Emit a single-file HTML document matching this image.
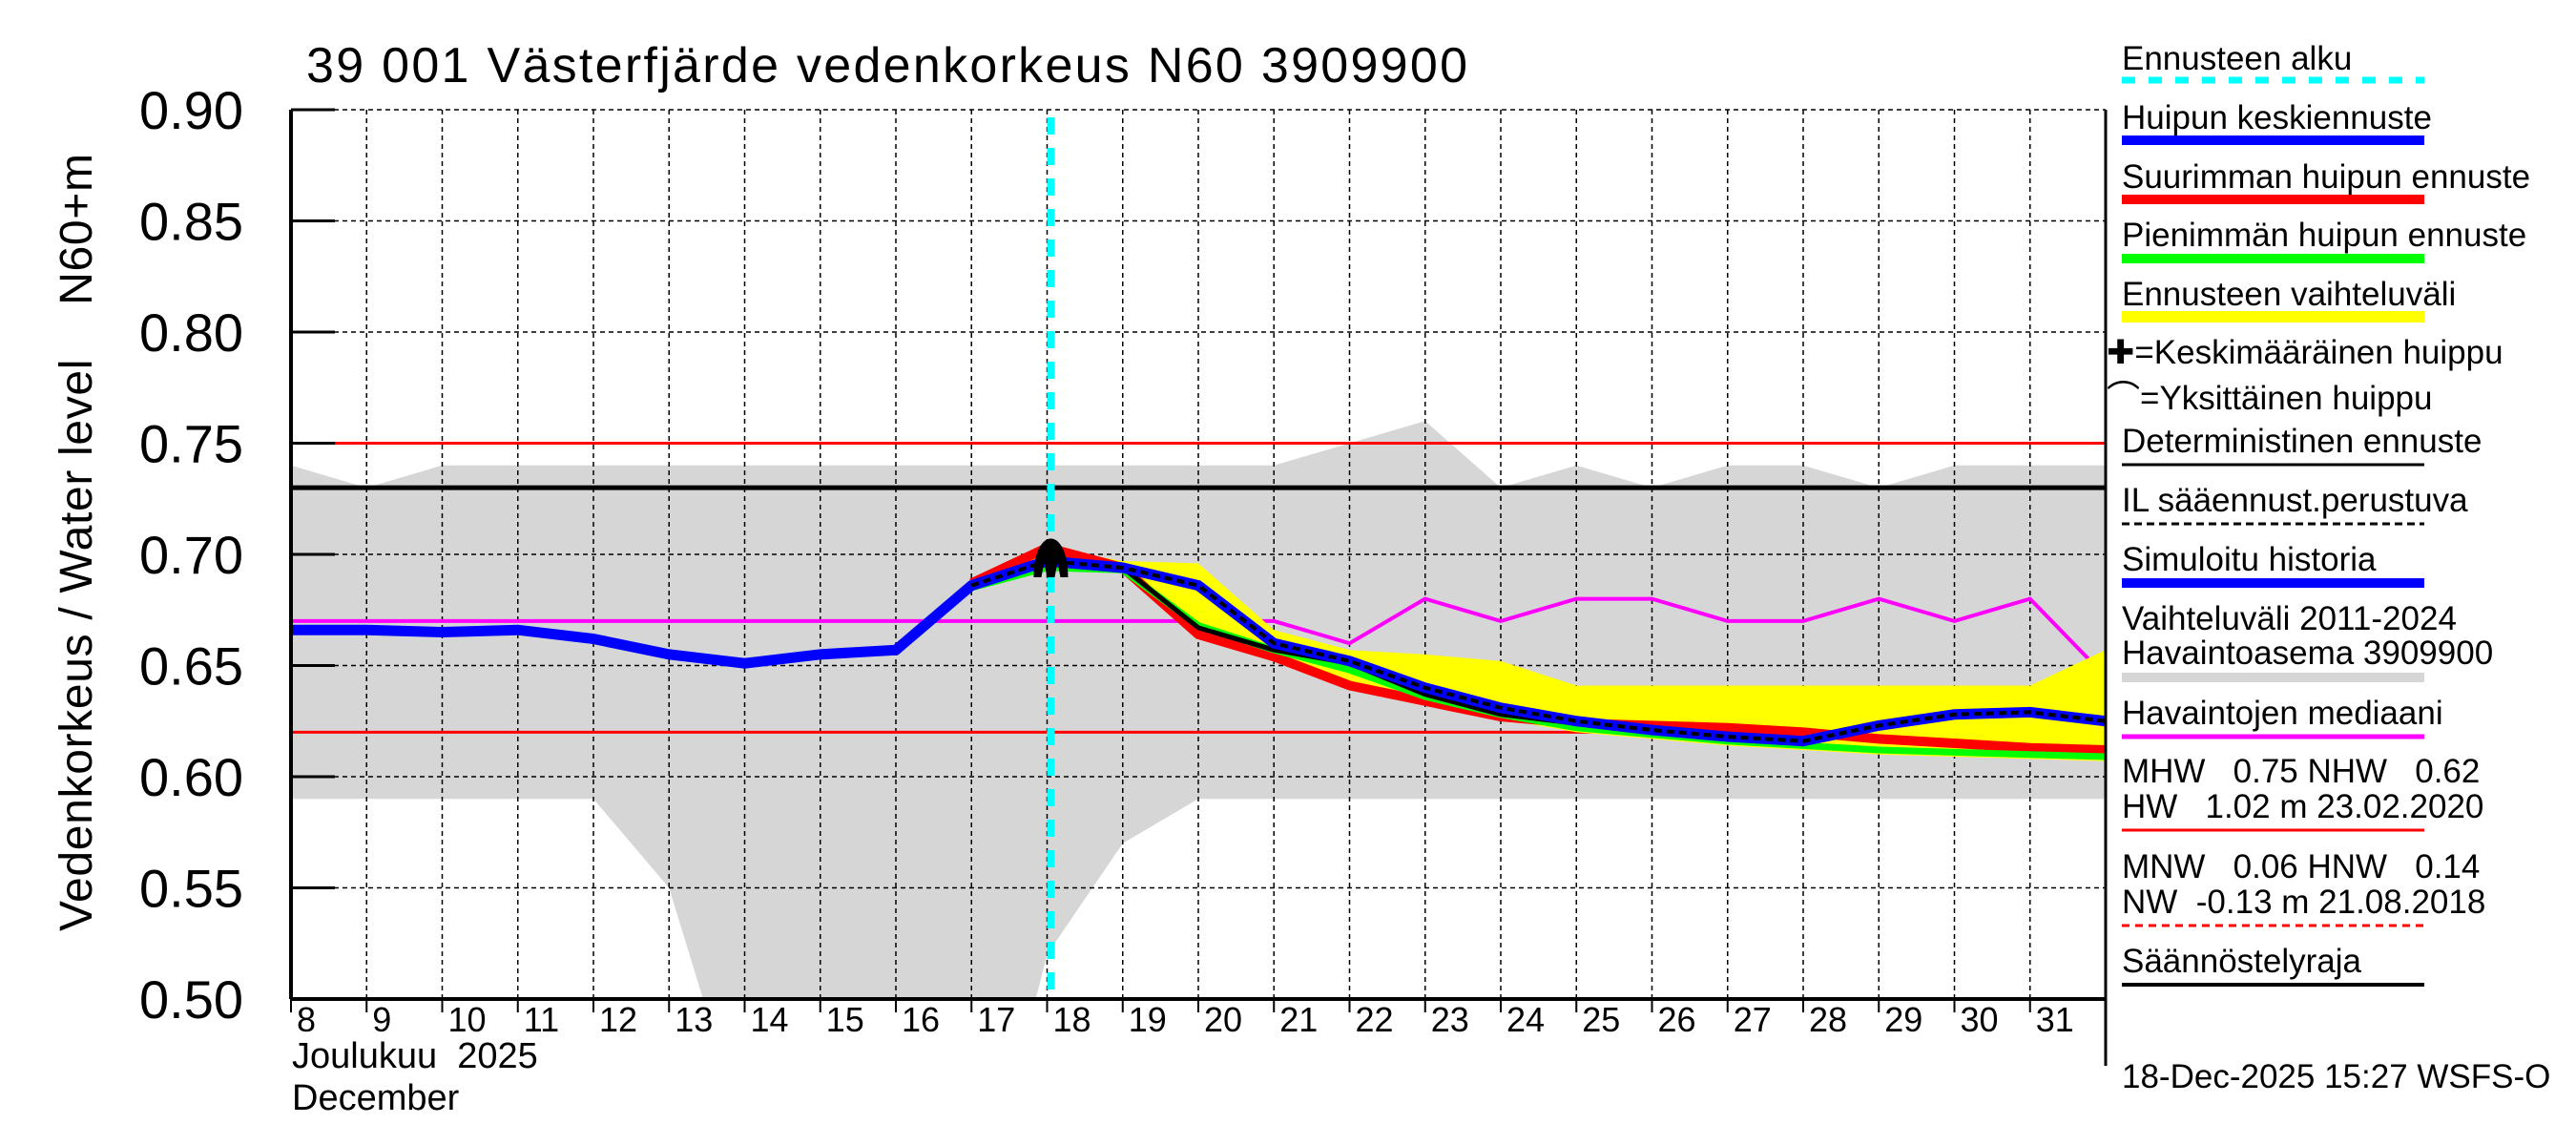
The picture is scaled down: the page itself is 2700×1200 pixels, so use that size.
<!DOCTYPE html>
<html><head><meta charset="utf-8"><style>
html,body{margin:0;padding:0;background:#fff;}
svg{display:block;font-family:"Liberation Sans",sans-serif;}
</style></head><body>
<svg id="chart" width="2700" height="1200" viewBox="0 0 2700 1200">
<g id="bg"></g><g id="grid"></g><g id="series"></g><g id="axes"></g><g id="legend"></g>
</svg>
<script>
const days=[8,9,10,11,12,13,14,15,16,17,18,19,20,21,22,23,24,25,26,27,28,29,30,31,32];
const yTicks=[0.50,0.55,0.60,0.65,0.70,0.75,0.80,0.85,0.90];
const xTickLabels=[8,9,10,11,12,13,14,15,16,17,18,19,20,21,22,23,24,25,26,27,28,29,30,31];
const rangeX=[8,9,10,11,12,13,13.45,17.85,18,19,20,21,22,23,24,25,26,27,28,29,30,31,32];
const rangeHi=[0.74,0.73,0.74,0.74,0.74,0.74,0.74,0.74,0.74,0.74,0.74,0.74,0.75,0.76,0.73,0.74,0.73,0.74,0.74,0.73,0.74,0.74,0.74];
const rangeLo=[0.59,0.59,0.59,0.59,0.59,0.55,0.50,0.50,0.52,0.57,0.59,0.59,0.59,0.59,0.59,0.59,0.59,0.59,0.59,0.59,0.59,0.59,0.59];
const medianVals=[0.67,0.67,0.67,0.67,0.67,0.67,0.67,0.67,0.67,0.67,0.67,0.67,0.67,0.67,0.66,0.68,0.67,0.68,0.68,0.67,0.67,0.68,0.67,0.68,0.645];
const histVals=[0.666,0.666,0.665,0.666,0.662,0.655,0.651,0.655,0.657,0.686,0.697,0.694];
const fcDays=[17,18,19,20,21,22,23,24,25,26,27,28,29,30,31,32];
const meanFc=[0.686,0.697,0.694,0.686,0.660,0.652,0.640,0.631,0.625,0.621,0.618,0.616,0.623,0.628,0.629,0.625];
const maxFc=[0.687,0.703,0.694,0.664,0.654,0.641,0.634,0.627,0.624,0.623,0.622,0.620,0.617,0.615,0.613,0.612];
const minFc=[0.685,0.694,0.693,0.668,0.657,0.648,0.636,0.628,0.622,0.619,0.616,0.614,0.612,0.611,0.610,0.609];
const detFc=[0.686,0.697,0.694,0.667,0.657,0.651,0.637,0.628,0.624,0.620,0.617,0.615,0.622,0.627,0.628,0.624];
const bandHi=[0.687,0.703,0.697,0.696,0.666,0.657,0.655,0.652,0.641,0.641,0.641,0.641,0.641,0.641,0.641,0.657];
const bandLo=[0.685,0.694,0.693,0.662,0.652,0.640,0.633,0.626,0.620,0.617,0.614,0.612,0.610,0.609,0.608,0.607];
const refLines=[0.75,0.73,0.62];
const fcStart=18.05;

const X0=305,X1=2207,Y0=115,Y1=1047;
const xs=d=>X0+(d-8)*(X1-X0)/24;
const ys=v=>Y0+(0.90-v)*(Y1-Y0)/0.40;
const NS='http://www.w3.org/2000/svg';
function mk(tag,attrs,parent,text){const e=document.createElementNS(NS,tag);for(const k in attrs)e.setAttribute(k,attrs[k]);if(text!==undefined)e.textContent=text;parent.appendChild(e);return e;}
const bg=document.getElementById('bg'),grid=document.getElementById('grid'),ser=document.getElementById('series'),ax=document.getElementById('axes'),lg=document.getElementById('legend');
const pts=(xa,va)=>xa.map((d,i)=>xs(d)+','+ys(va[i])).join(' ');

let p=mk('polygon',{points:pts(rangeX,rangeHi)+' '+pts(rangeX.slice().reverse(),rangeLo.slice().reverse()),fill:'#d6d6d6'},bg);



yTicks.forEach(v=>{const l=mk('line',{x1:X0,x2:X1,y1:ys(v),y2:ys(v),stroke:'#000','stroke-width':1.5,'stroke-dasharray':'5,4'},grid);

});
xTickLabels.forEach(d=>{const l=mk('line',{x1:xs(d),x2:xs(d),y1:Y0,y2:Y1,stroke:'#000','stroke-width':1.5,'stroke-dasharray':'5,4'},grid);

});

refLines.forEach((v,i)=>{const l=mk('line',{x1:X0,x2:X1,y1:ys(v),y2:ys(v),stroke:i==1?'#000':'#f00','stroke-width':i==1?5:3},ser);

});

let m=mk('polyline',{points:pts(days,medianVals),fill:'none',stroke:'#f0f','stroke-width':4},ser);



let b=mk('polygon',{points:pts(fcDays,bandHi)+' '+pts(fcDays.slice().reverse(),bandLo.slice().reverse()),fill:'#ff0'},ser);



let r=mk('polyline',{points:pts(fcDays,maxFc),fill:'none',stroke:'#f00','stroke-width':10},ser);


let g=mk('polyline',{points:pts(fcDays,minFc),fill:'none',stroke:'#0f0','stroke-width':7},ser);


let dt=mk('polyline',{points:pts(fcDays,detFc),fill:'none',stroke:'#000','stroke-width':5},ser);


let h=mk('polyline',{points:pts(days.slice(0,histVals.length),histVals),fill:'none',stroke:'#00f','stroke-width':11},ser);


let mb=mk('polyline',{points:pts(fcDays,meanFc),fill:'none',stroke:'#00f','stroke-width':11},ser);


let il=mk('polyline',{points:pts(fcDays,meanFc),fill:'none',stroke:'#000','stroke-width':4,'stroke-dasharray':'8,5'},ser);



let c=mk('line',{x1:xs(fcStart),x2:xs(fcStart),y1:Y0+8,y2:Y1,stroke:'#0ff','stroke-width':8,'stroke-dasharray':'18,14'},ser);


const px=xs(fcStart),py=ys(0.700);
let pk=mk('path',{d:`M${px-18},${py+24} C${px-18},${py-30} ${px+18},${py-30} ${px+18},${py+24} L${px+10},${py+24} L${px+7},${py+8} L${px+4},${py+24} L${px-4},${py+24} L${px-7},${py+8} L${px-10},${py+24} Z`,fill:'#000'},ser);



mk('line',{x1:X0,x2:X0,y1:Y0,y2:Y1,stroke:'#000','stroke-width':4},ax);
mk('line',{x1:X0,x2:X1,y1:Y1,y2:Y1,stroke:'#000','stroke-width':4},ax);
mk('line',{x1:X1,x2:X1,y1:Y0,y2:1117,stroke:'#000','stroke-width':3},ax);
yTicks.forEach(v=>{mk('line',{x1:X0,x2:X0+46,y1:ys(v),y2:ys(v),stroke:'#000','stroke-width':3},ax);
const t=mk('text',{x:255,y:ys(v)+20,'font-size':56,'text-anchor':'end'},ax,v.toFixed(2));

});
xTickLabels.forEach(d=>{mk('line',{x1:xs(d),x2:xs(d),y1:Y1,y2:Y1+14,stroke:'#000','stroke-width':2},ax);
const t=mk('text',{x:xs(d)+6,y:1081,'font-size':36},ax,String(d));

});
</script>
<svg style="position:absolute;left:0;top:0" width="2700" height="1200">
<text x="321" y="86" font-size="52" textLength="1217" font-family="Liberation Sans">39 001 Västerfjärde vedenkorkeus N60 3909900</text>
<text transform="translate(96,976) rotate(-90)" font-size="48" textLength="815" font-family="Liberation Sans" xml:space="preserve">Vedenkorkeus / Water level    N60+m</text>
<text x="306" y="1119" font-size="38" font-family="Liberation Sans" xml:space="preserve">Joulukuu  2025</text>
<text x="306" y="1163" font-size="38" font-family="Liberation Sans">December</text>
<g font-size="35" font-family="Liberation Sans">
<text x="2224" y="73">Ennusteen alku</text>
<line x1="2224" x2="2541" y1="84" y2="84" stroke="#0ff" stroke-width="7" stroke-dasharray="14,14"/>
<text x="2224" y="135">Huipun keskiennuste</text>
<line x1="2224" x2="2541" y1="147" y2="147" stroke="#00f" stroke-width="10"/>
<text x="2224" y="197">Suurimman huipun ennuste</text>
<line x1="2224" x2="2541" y1="209" y2="209" stroke="#f00" stroke-width="10"/>
<text x="2224" y="258">Pienimmän huipun ennuste</text>
<line x1="2224" x2="2541" y1="271" y2="271" stroke="#0f0" stroke-width="10"/>
<text x="2224" y="320">Ennusteen vaihteluväli</text>
<line x1="2224" x2="2541" y1="332" y2="332" stroke="#ff0" stroke-width="12"/>
<text x="2208" y="381">✚=Keskimääräinen huippu</text>
<text x="2208" y="429">⌒=Yksittäinen huippu</text>
<text x="2224" y="474">Deterministinen ennuste</text>
<line x1="2224" x2="2541" y1="487" y2="487" stroke="#000" stroke-width="3"/>
<text x="2224" y="536">IL sääennust.perustuva</text>
<line x1="2224" x2="2541" y1="549" y2="549" stroke="#000" stroke-width="3" stroke-dasharray="8,5"/>
<text x="2224" y="598">Simuloitu historia</text>
<line x1="2224" x2="2541" y1="611" y2="611" stroke="#00f" stroke-width="10"/>
<text x="2224" y="660">Vaihteluväli 2011-2024</text>
<text x="2224" y="696">Havaintoasema 3909900</text>
<line x1="2224" x2="2541" y1="710" y2="710" stroke="#d6d6d6" stroke-width="10"/>
<text x="2224" y="759">Havaintojen mediaani</text>
<line x1="2224" x2="2541" y1="772" y2="772" stroke="#f0f" stroke-width="5"/>
<text x="2224" y="820" xml:space="preserve">MHW   0.75 NHW   0.62</text>
<text x="2224" y="857" xml:space="preserve">HW   1.02 m 23.02.2020</text>
<line x1="2224" x2="2541" y1="870" y2="870" stroke="#f00" stroke-width="3"/>
<text x="2224" y="920" xml:space="preserve">MNW   0.06 HNW   0.14</text>
<text x="2224" y="957" xml:space="preserve">NW  -0.13 m 21.08.2018</text>
<line x1="2224" x2="2541" y1="970" y2="970" stroke="#f00" stroke-width="3" stroke-dasharray="8,6"/>
<text x="2224" y="1019">Säännöstelyraja</text>
<line x1="2224" x2="2541" y1="1032" y2="1032" stroke="#000" stroke-width="4"/>
<text x="2224" y="1140">18-Dec-2025 15:27 WSFS-O</text>
</g>
</svg>
</body></html>
